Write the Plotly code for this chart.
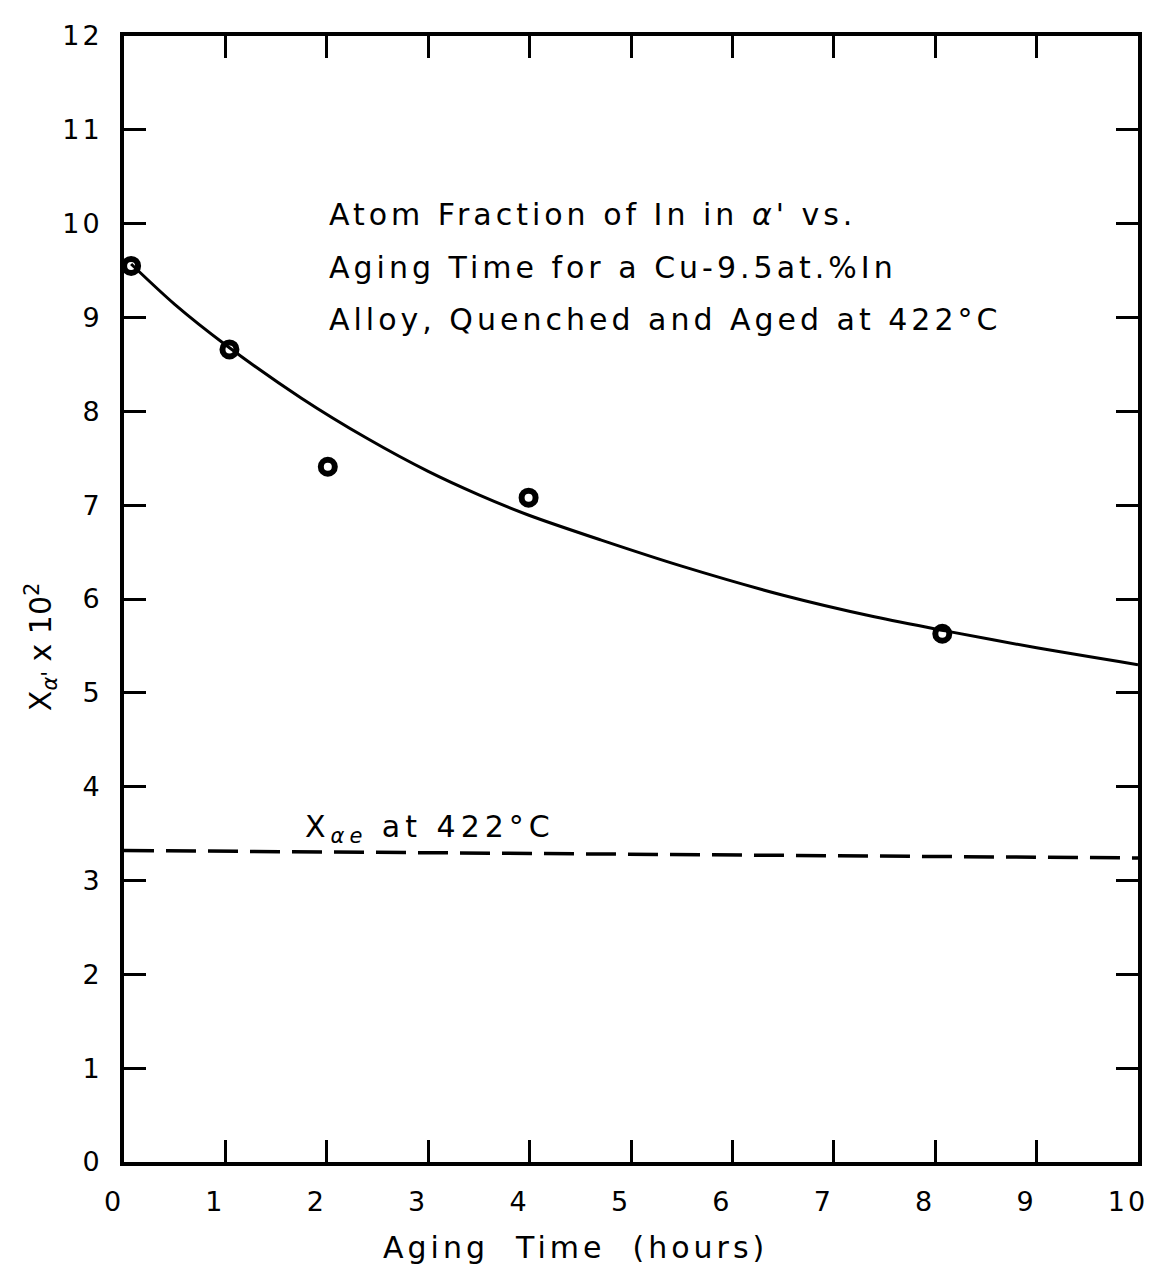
import plotly.graph_objects as go

# Measured data points
time_pts = [0.07, 1.04, 2.01, 3.99, 8.07]
xa_pts = [9.55, 8.66, 7.41, 7.08, 5.63]

# Fitted curve
curve_t = [0.07, 0.5, 1.0, 1.75, 2.4, 3.0, 3.5, 4.0, 4.7, 5.5, 6.5, 7.4, 8.1, 9.0, 10.0]
curve_x = [9.57, 9.14, 8.71, 8.14, 7.71, 7.36, 7.11, 6.89, 6.63, 6.35, 6.04, 5.81, 5.66, 5.48, 5.30]

# Equilibrium composition line
eq_t = [0.0, 10.0]
eq_x = [3.32, 3.24]

x_ticks = list(range(0, 11))
y_ticks = list(range(0, 13))

FONT = "DejaVu Sans"


def spaced(s, px=4):
    return '<span style="letter-spacing:%dpx">%s</span>' % (px, s)


fig = go.Figure()
fig.add_trace(go.Scatter(x=curve_t, y=curve_x, mode="lines",
                         line=dict(color="black", width=3, shape="spline", smoothing=0.8),
                         showlegend=False, hoverinfo="skip"))
fig.add_trace(go.Scatter(x=eq_t, y=eq_x, mode="lines", line=dict(color="black", width=3.5, dash="30px,12px"),
                         showlegend=False, hoverinfo="skip"))
fig.add_trace(go.Scatter(x=time_pts, y=xa_pts, mode="markers", cliponaxis=False,
                         marker=dict(symbol="circle-open", size=14, color="black", line=dict(width=6, color="black")),
                         showlegend=False))

axis_common = dict(showline=True, linewidth=4, linecolor="black", mirror="ticks", ticks="inside",
                   ticklen=22, tickwidth=3, tickcolor="black", showgrid=False, zeroline=False,
                   ticklabeloverflow="allow",
                   tickfont=dict(family=FONT, size=27, color="black"))

fig.update_xaxes(range=[0, 10], tickvals=x_ticks, ticktext=[spaced(str(v), 3) for v in x_ticks],
                 ticklabelstandoff=13, ticklabelshift=-10, **axis_common)
fig.update_yaxes(range=[0, 12], tickvals=y_ticks, ticktext=[spaced(str(v), 3) for v in y_ticks],
                 ticklabelstandoff=12, **axis_common)

title_lines = ["Atom Fraction of In in <i>α</i>' vs.",
               "Aging Time for a Cu-9.5at.%In",
               "Alloy, Quenched and Aged at 422°C"]
title_y = [10.1, 9.53, 8.98]
for txt, yy in zip(title_lines, title_y):
    fig.add_annotation(x=2.0, y=yy, xref="x", yref="y", text=spaced(txt), showarrow=False, xanchor="left",
                       yanchor="middle", font=dict(family=FONT, size=30, color="black"))

fig.add_annotation(x=1.77, y=3.55, xref="x", yref="y", text=spaced("X<sub><i>αe</i></sub> at 422°C", 5),
                   showarrow=False, xanchor="left", yanchor="middle", font=dict(family=FONT, size=30, color="black"))

fig.add_annotation(x=0.445, y=-0.076, xref="paper", yref="paper", text=spaced("Aging  Time  (hours)"),
                   showarrow=False, xanchor="center", yanchor="middle", font=dict(family=FONT, size=30, color="black"))

fig.add_annotation(x=-0.082, y=0.458, xref="paper", yref="paper", text="X<sub><i>α</i>'</sub> x 10<sup>2</sup>",
                   showarrow=False, textangle=-90, xanchor="center", yanchor="middle",
                   font=dict(family=FONT, size=30, color="black"))

# page has an 8px body margin, so the figure is sized to fit inside the window
fig.update_layout(width=1152, height=1260, margin=dict(l=116, r=16, t=25, b=106),
                  plot_bgcolor="white", paper_bgcolor="white", font=dict(family=FONT, color="black"))

fig.write_html("out.html")
